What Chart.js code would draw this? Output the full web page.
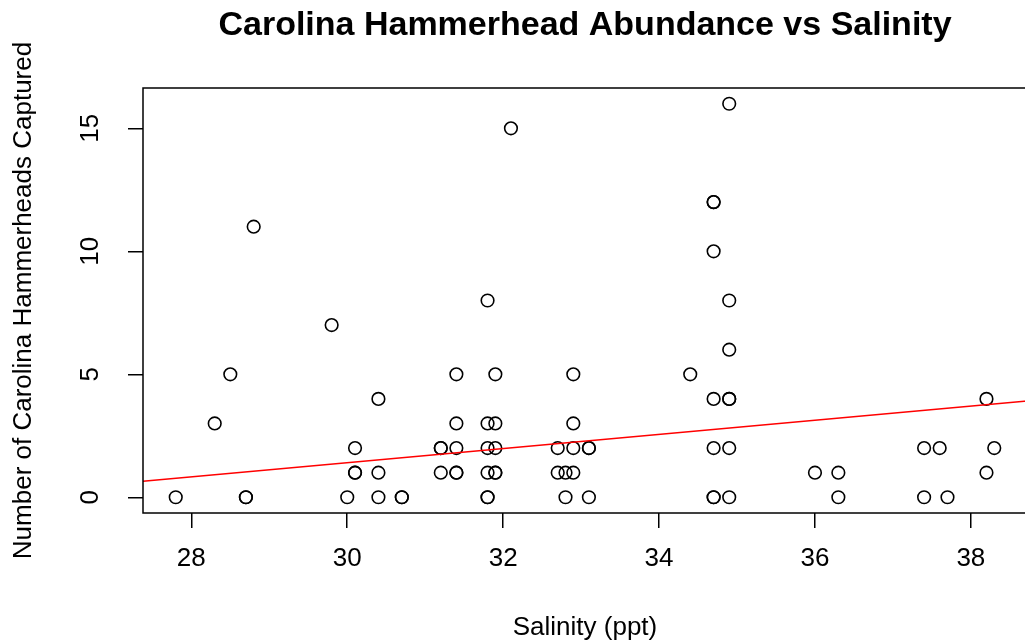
<!DOCTYPE html>
<html lang="en">
<head>
  <meta charset="UTF-8">
  <title>Carolina Hammerhead Abundance vs Salinity</title>
  <style>
    html, body {
      margin: 0;
      padding: 0;
      background: #fff;
      overflow: hidden;
    }
    #salinity-chart {
      display: block;
    }
  </style>
</head>
<body>
  <canvas id="salinity-chart" width="1030" height="641"></canvas>

  <script src="https://cdn.jsdelivr.net/npm/chart.js"></script>
  <script>
    // Survey sets: salinity (ppt) and hammerheads caught per set
    const salinity = [
      27.8, 28.3, 28.5, 28.7, 28.7, 28.8, 29.8, 30.0, 30.1, 30.1, 30.1,
      30.4, 30.4, 30.4, 30.7, 30.7, 31.2, 31.2, 31.2,
      31.4, 31.4, 31.4, 31.4, 31.4,
      31.8, 31.8, 31.8, 31.8, 31.8, 31.8,
      31.9, 31.9, 31.9, 31.9, 31.9, 32.1,
      32.7, 32.7, 32.8, 32.8, 32.9, 32.9, 32.9, 32.9,
      33.1, 33.1, 33.1, 34.4,
      34.7, 34.7, 34.7, 34.7, 34.7, 34.7, 34.7,
      34.9, 34.9, 34.9, 34.9, 34.9, 34.9, 34.9,
      36.0, 36.3, 36.3, 37.4, 37.4, 37.6, 37.7, 38.2, 38.2, 38.3
    ];
    const captured = [
      0, 3, 5, 0, 0, 11, 7, 0, 2, 1, 1,
      4, 1, 0, 0, 0, 2, 2, 1,
      5, 3, 2, 1, 1,
      8, 3, 2, 1, 0, 0,
      5, 3, 2, 1, 1, 15,
      2, 1, 1, 0, 5, 3, 2, 1,
      2, 2, 0, 5,
      12, 12, 10, 4, 2, 0, 0,
      16, 8, 6, 4, 4, 2, 0,
      1, 1, 0, 2, 0, 2, 0, 4, 1, 2
    ];

    // Least-squares fit: captured = intercept + slope * salinity
    const fitIntercept = -7.23;
    const fitSlope = 0.2877;

    const xTicks = [28, 30, 32, 34, 36, 38];
    const yTicks = [0, 5, 10, 15];

    const chartTitle = 'Carolina Hammerhead Abundance vs Salinity';
    const xTitle = 'Salinity (ppt)';
    const yTitle = 'Number of Carolina Hammerheads Captured';

    const FONT = "'Liberation Sans', Arial, sans-serif";

    // R-style axis limits: data range padded by 4% on each side
    function paddedRange(values) {
      const lo = Math.min(...values);
      const hi = Math.max(...values);
      const pad = (hi - lo) * 0.04;
      return [lo - pad, hi + pad];
    }
    const [xMin, xMax] = paddedRange(salinity);
    const [yMin, yMax] = paddedRange(captured);

    const points = salinity.map((s, i) => ({ x: s, y: captured[i] }));
    const fitLine = [xMin, xMax].map(s => ({ x: s, y: fitIntercept + fitSlope * s }));

    // box, main title and rotated y tick labels
    const frame = {
      id: 'frame',
      afterDraw(chart) {
        const { ctx, chartArea: a, scales } = chart;
        ctx.save();
        ctx.strokeStyle = '#000';
        ctx.lineWidth = 1.5;
        ctx.strokeRect(a.left, a.top, a.right - a.left, a.bottom - a.top);

        ctx.fillStyle = '#000';
        ctx.font = 'bold 34px ' + FONT;
        ctx.textAlign = 'center';
        ctx.textBaseline = 'alphabetic';
        ctx.fillText(chartTitle, (a.left + a.right) / 2, 35);

        ctx.font = '26px ' + FONT;
        yTicks.forEach(v => {
          const py = scales.y.getPixelForValue(v);
          ctx.save();
          ctx.translate(98, py);
          ctx.rotate(-Math.PI / 2);
          ctx.fillText(String(v), 0, 0);
          ctx.restore();
        });
        ctx.restore();
      }
    };

    new Chart(document.getElementById('salinity-chart'), {
      type: 'scatter',
      data: {
        datasets: [
          {
            type: 'line',
            label: 'fit',
            data: fitLine,
            borderColor: '#ff0000',
            borderWidth: 1.5,
            pointRadius: 0,
            fill: false
          },
          {
            label: 'sets',
            data: points,
            pointStyle: 'circle',
            pointRadius: 6.3,
            pointBorderWidth: 1.6,
            borderColor: '#000',
            backgroundColor: 'rgba(0,0,0,0)'
          }
        ]
      },
      options: {
        responsive: false,
        animation: false,
        layout: {
          autoPadding: false,
          padding: { top: 88, right: 3, left: 0, bottom: 0 }
        },
        plugins: {
          legend: { display: false },
          tooltip: { enabled: false }
        },
        scales: {
          x: {
            type: 'linear',
            position: 'bottom',
            min: xMin,
            max: xMax,
            afterBuildTicks: scale => { scale.ticks = xTicks.map(v => ({ value: v })); },
            afterFit: scale => { scale.height = 128; },
            border: { display: false },
            grid: {
              drawOnChartArea: false,
              drawTicks: true,
              tickLength: 15,
              color: '#000',
              lineWidth: 1.5
            },
            ticks: {
              color: '#000',
              font: { family: FONT, size: 26 },
              padding: 15,
              maxRotation: 0
            },
            title: {
              display: true,
              text: xTitle,
              color: '#000',
              font: { family: FONT, size: 26, lineHeight: 1 },
              padding: { top: 0, bottom: 0 }
            }
          },
          y: {
            type: 'linear',
            position: 'left',
            min: yMin,
            max: yMax,
            afterBuildTicks: scale => { scale.ticks = yTicks.map(v => ({ value: v })); },
            afterFit: scale => { scale.width = 143; },
            border: { display: false },
            grid: {
              drawOnChartArea: false,
              drawTicks: true,
              tickLength: 15,
              color: '#000',
              lineWidth: 1.5
            },
            ticks: { display: false },
            title: {
              display: true,
              text: yTitle,
              color: '#000',
              font: { family: FONT, size: 26, lineHeight: 1 },
              padding: { top: 11, bottom: 0 }
            }
          }
        }
      },
      plugins: [frame]
    });
  </script>
</body>
</html>
